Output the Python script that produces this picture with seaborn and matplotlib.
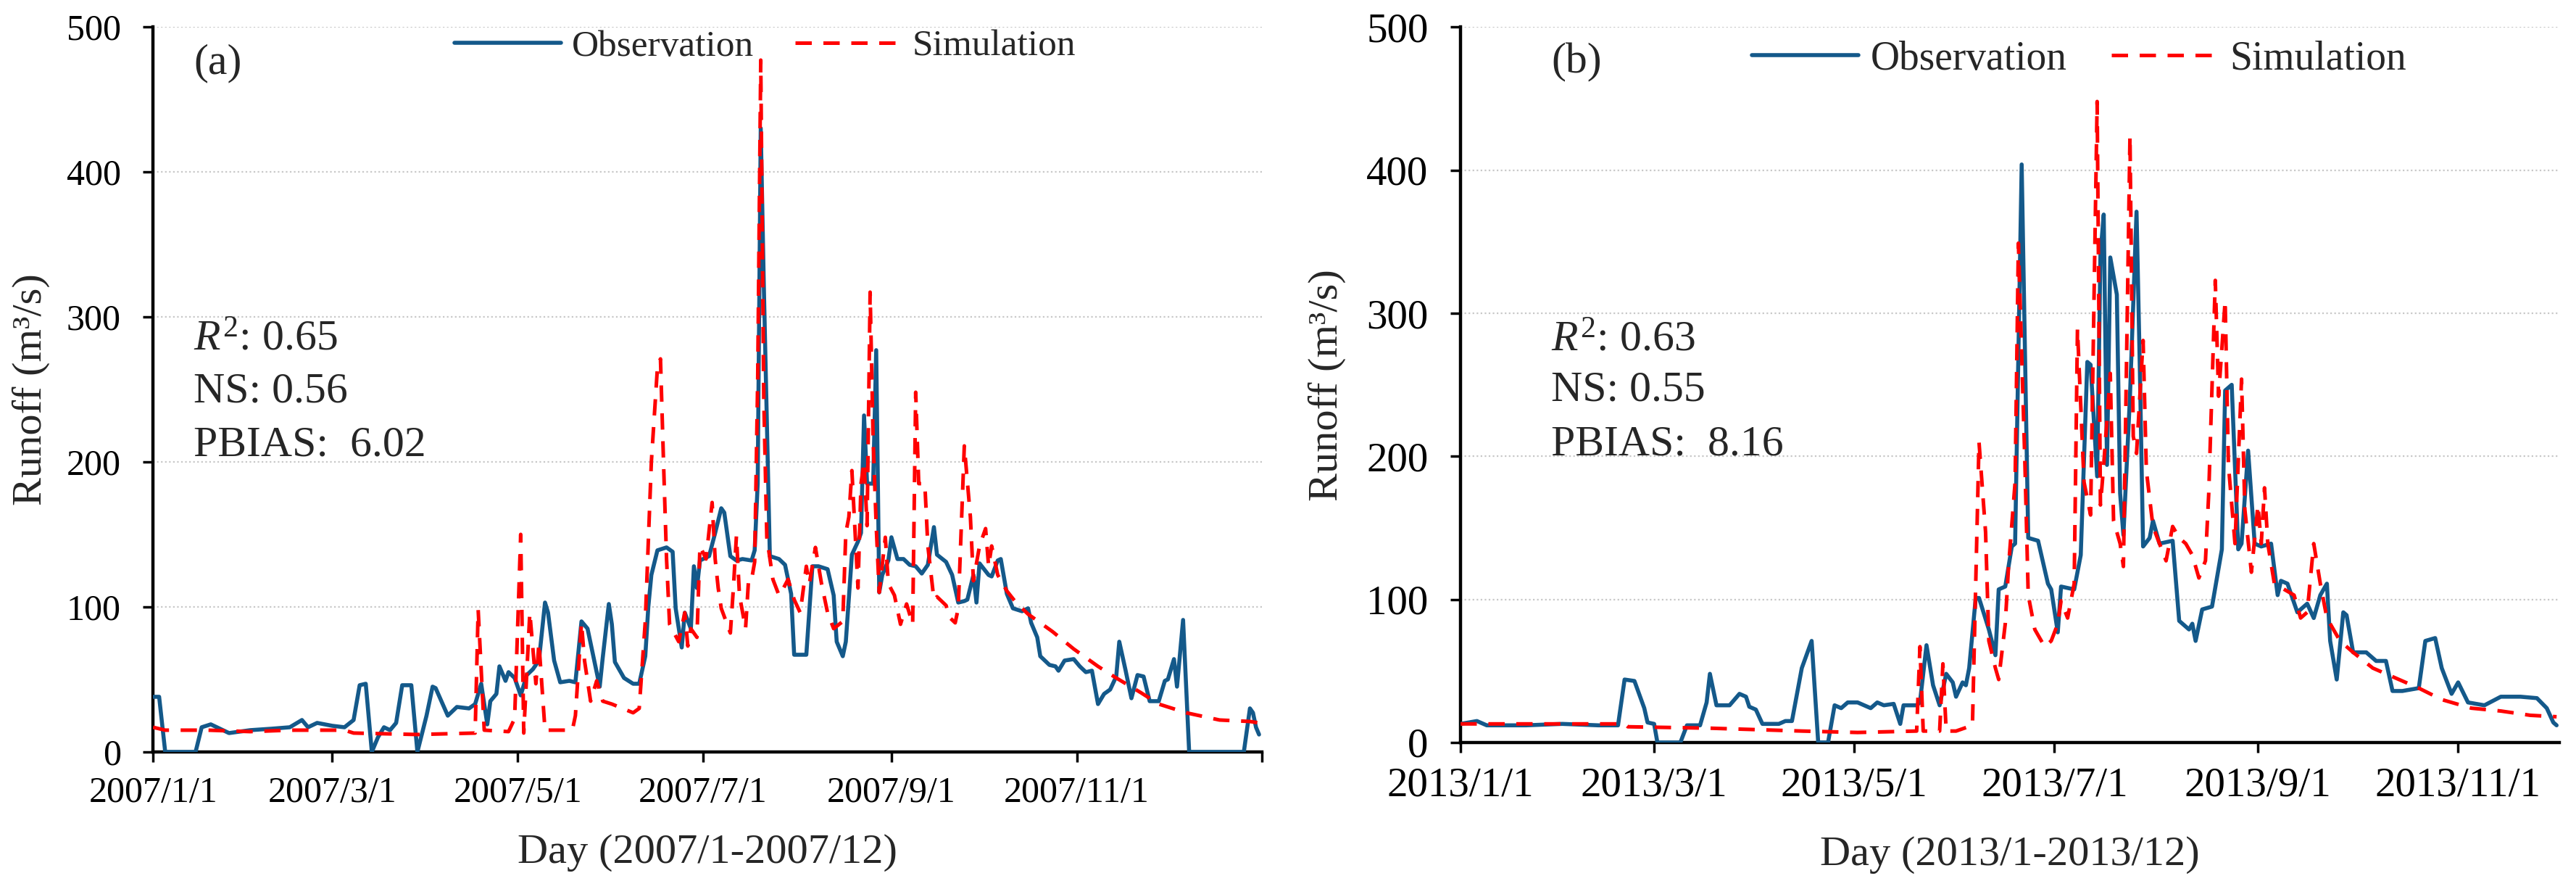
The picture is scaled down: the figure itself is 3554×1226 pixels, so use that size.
import pandas as pd
import numpy as np
import matplotlib
matplotlib.use("Agg")
import matplotlib.pyplot as plt
import seaborn as sns

# ---- data (day of year, runoff m3/s) ----
# panel (a) 2007
obs_a_day = [0, 2, 4, 14, 16, 19, 21, 25, 32, 39,
             45, 49, 51, 54, 59, 63, 66, 68, 70, 72,
             74, 76, 78, 80, 82, 85, 87, 90, 92, 93,
             97, 100, 104, 106, 108, 110, 111, 113, 114, 116,
             117, 119, 121, 123, 125, 127, 129, 130, 132, 134,
             137, 139, 141, 143, 147, 148, 150, 151, 152, 155,
             158, 160, 162, 163, 164, 166, 169, 171, 172, 174,
             175, 177, 178, 179, 180, 183, 185, 187, 188, 190,
             192, 194, 197, 198, 199, 200, 201, 203, 206, 208,
             210, 211, 215, 217, 219, 222, 224, 225, 227, 228,
             230, 232, 233, 234, 235, 237, 238, 239, 240, 242,
             243, 245, 247, 249, 251, 253, 255, 257, 258, 261,
             263, 265, 267, 268, 270, 271, 272, 275, 276, 278,
             279, 281, 283, 286, 288, 289, 291, 292, 295, 297,
             298, 300, 303, 305, 307, 309, 311, 313, 315, 317,
             318, 320, 322, 324, 326, 328, 331, 333, 334, 336,
             337, 339, 341, 359, 361, 362, 363, 364]
obs_a_val = [38, 38, 0, 0, 17, 19, 17, 13, 15, 16,
             17, 22, 17, 20, 18, 17, 22, 46, 47, 0,
             10, 17, 15, 20, 46, 46, 0, 25, 45, 44,
             25, 31, 30, 33, 47, 19, 35, 40, 59, 49,
             55, 51, 39, 53, 57, 63, 103, 96, 63, 48,
             49, 48, 90, 85, 45, 65, 102, 88, 62, 51,
             47, 47, 66, 100, 122, 139, 141, 138, 99, 72,
             96, 85, 128, 113, 132, 135, 151, 168, 165, 135,
             132, 133, 132, 139, 185, 430, 323, 135, 133, 129,
             109, 67, 67, 128, 128, 126, 108, 76, 66, 76,
             136, 145, 151, 232, 185, 185, 277, 110, 122, 132,
             148, 133, 133, 129, 128, 123, 129, 155, 136, 131,
             122, 103, 104, 105, 122, 103, 130, 122, 121, 132,
             133, 109, 99, 97, 99, 89, 79, 66, 60, 59,
             56, 63, 64, 59, 55, 56, 33, 40, 43, 52,
             76, 57, 37, 53, 52, 35, 35, 49, 50, 64,
             45, 91, 0, 0, 30, 27, 17, 12]

sim_a_day = [0, 4, 18, 32, 45, 63, 66, 87, 106, 107,
             109, 117, 119, 121, 122, 124, 126, 127, 129, 138,
             139, 141, 142, 144, 146, 148, 151, 158, 160, 162,
             164, 166, 167, 168, 169, 170, 173, 175, 176, 177,
             179, 180, 182, 184, 185, 186, 187, 190, 191, 192,
             193, 195, 196, 197, 198, 199, 200, 201, 202, 204,
             206, 207, 209, 211, 213, 215, 216, 218, 220, 222,
             224, 227, 228, 229, 230, 232, 233, 234, 235, 236,
             237, 238, 239, 241, 242, 244, 246, 248, 250, 251,
             252, 254, 255, 257, 258, 261, 262, 264, 265, 267,
             269, 270, 272, 274, 275, 276, 278, 281, 284, 288,
             296, 303, 311, 317, 325, 331, 340, 351, 361, 364]
sim_a_val = [17, 15, 15, 14, 15, 15, 13, 12, 13, 98,
             15, 14, 23, 150, 13, 96, 47, 75, 15, 15,
             25, 89, 63, 35, 49, 35, 33, 27, 30, 90,
             200, 265, 271, 200, 133, 88, 76, 96, 73, 85,
             79, 142, 133, 172, 133, 113, 99, 82, 113, 149,
             108, 85, 119, 119, 131, 257, 477, 243, 148, 119,
             108, 111, 119, 105, 96, 128, 116, 141, 116, 96,
             85, 90, 151, 162, 194, 113, 185, 200, 156, 317,
             214, 156, 110, 148, 116, 108, 88, 102, 88, 248,
             185, 185, 142, 105, 107, 101, 93, 89, 99, 211,
             162, 118, 142, 154, 128, 142, 122, 111, 103, 95,
             83, 71, 59, 51, 41, 33, 27, 22, 21, 20]

# panel (b) 2013
obs_b_day = [0, 5, 8, 20, 31, 42, 48, 50, 53, 56,
             57, 59, 60, 67, 69, 73, 75, 76, 78, 82,
             85, 87, 88, 90, 92, 97, 99, 101, 104, 107,
             109, 112, 114, 116, 118, 121, 125, 127, 129, 132,
             134, 135, 139, 140, 142, 144, 146, 148, 150, 151,
             153, 154, 155, 157, 158, 161, 163, 164, 166, 168,
             169, 171, 173, 176, 179, 180, 182, 183, 187, 189,
             191, 192, 194, 195, 196, 197, 198, 200, 201, 202,
             204, 206, 207, 208, 210, 211, 213, 217, 219, 222,
             223, 224, 226, 229, 232, 233, 235, 237, 238, 240,
             242, 244, 247, 249, 250, 252, 255, 257, 258, 260,
             262, 264, 265, 267, 269, 270, 272, 276, 279, 282,
             284, 287, 292, 294, 297, 299, 302, 304, 307, 312,
             317, 323, 328, 331, 333, 334]
obs_b_val = [13, 15, 12, 12, 13, 12, 12, 44, 43, 24,
             14, 13, 0, 0, 12, 12, 28, 48, 26, 26,
             34, 32, 25, 23, 13, 13, 15, 15, 52, 71,
             0, 0, 26, 24, 28, 28, 24, 28, 26, 27,
             13, 26, 26, 28, 68, 40, 26, 48, 42, 32,
             42, 40, 52, 101, 101, 79, 61, 107, 109, 137,
             139, 404, 143, 141, 111, 107, 77, 109, 107, 131,
             266, 264, 186, 341, 369, 194, 339, 313, 174, 145,
             242, 371, 262, 137, 143, 155, 139, 141, 85, 79,
             83, 71, 93, 95, 135, 246, 250, 135, 139, 204,
             139, 137, 139, 103, 113, 111, 91, 95, 97, 87,
             103, 111, 71, 44, 91, 89, 63, 63, 57, 57,
             36, 36, 38, 71, 73, 52, 34, 42, 28, 26,
             32, 32, 31, 24, 14, 12]

sim_b_day = [0, 50, 51, 76, 104, 121, 139, 140, 141, 146,
             147, 148, 151, 156, 157, 158, 160, 161, 163, 164,
             166, 167, 169, 170, 172, 173, 175, 178, 180, 182,
             183, 185, 187, 188, 190, 192, 194, 195, 196, 198,
             199, 201, 202, 204, 205, 206, 208, 209, 211, 213,
             215, 217, 219, 221, 223, 225, 227, 228, 230, 231,
             233, 234, 236, 238, 239, 241, 243, 244, 245, 246,
             248, 251, 254, 256, 258, 260, 262, 264, 268, 272,
             278, 284, 292, 299, 308, 317, 326, 334]
sim_b_val = [13, 13, 11, 10, 8, 7, 8, 67, 8, 8,
             55, 8, 8, 12, 111, 210, 147, 71, 52, 44,
             83, 123, 182, 349, 194, 103, 79, 67, 71, 83,
             99, 87, 111, 289, 182, 159, 448, 166, 194, 258,
             155, 139, 123, 424, 214, 202, 281, 190, 151, 139,
             127, 151, 143, 139, 131, 115, 127, 174, 323, 242,
             309, 194, 139, 254, 163, 119, 166, 139, 178, 139,
             111, 107, 103, 87, 91, 139, 111, 87, 71, 63,
             52, 46, 38, 30, 24, 22, 19, 18]

ticks_a = ['2007-01-01', '2007-03-01', '2007-05-01', '2007-07-01',
           '2007-09-01', '2007-11-01', '2008-01-01']
tick_labels_a = ['2007/1/1', '2007/3/1', '2007/5/1', '2007/7/1',
                 '2007/9/1', '2007/11/1', '']
ticks_b = ['2013-01-01', '2013-03-01', '2013-05-01', '2013-07-01',
           '2013-09-01', '2013-11-01']
tick_labels_b = ['2013/1/1', '2013/3/1', '2013/5/1', '2013/7/1',
                 '2013/9/1', '2013/11/1']
stats_a = [(284, r'$R^2$: 0.65'), (248, 'NS: 0.56'), (211, 'PBIAS:  6.02')]
stats_b = [(281, r'$R^2$: 0.63'), (246, 'NS: 0.55'), (208, 'PBIAS:  8.16')]


def make_df(start, day, val):
    d = pd.DataFrame({'day': day, 'runoff': val})
    d['date'] = pd.Timestamp(start) + pd.to_timedelta(d['day'], unit='D')
    return d


sns.set_style('white')
plt.rcParams['font.family'] = ['Liberation Serif', 'DejaVu Serif']
plt.rcParams['mathtext.fontset'] = 'custom'
plt.rcParams['mathtext.rm'] = 'Liberation Serif'
plt.rcParams['mathtext.it'] = 'Liberation Serif:italic'

BLUE = '#14598a'
RED = '#ff0000'

fig = plt.figure(figsize=(35.55, 12.26), dpi=100)
ax1 = fig.add_axes([0.0594, 0.1542, 0.4304, 0.8157])
ax2 = fig.add_axes([0.5668, 0.1648, 0.4264, 0.8047])

panels = [
    (ax1, '2007-01-01', obs_a_day, obs_a_val, sim_a_day, sim_a_val, ticks_a, tick_labels_a,
     stats_a, '(a)', 'Day (2007/1-2007/12)', pd.Timestamp('2008-01-01'), 36, 37,
     0.0366, (0.552, 0.9725), 2.85, -0.093, -0.113),
    (ax2, '2013-01-01', obs_b_day, obs_b_val, sim_b_day, sim_b_val, ticks_b, tick_labels_b,
     stats_b, '(b)', 'Day (2013/1-2013/12)', pd.Timestamp('2013-12-01 19:00'), 41, 40,
     0.0825, (0.563, 0.955), 2.65, -0.104, -0.131),
]

for (ax, start, od, ov, sd, sv, ticks, tlabels, stats, plabel, xlabel, xend,
     tsize, lsize, sx, lpos, hlen, ylab_x, xlab_y) in panels:
    obs = make_df(start, od, ov)
    sim = make_df(start, sd, sv)
    sns.lineplot(data=obs, x='date', y='runoff', ax=ax, color=BLUE, linewidth=4.0,
                 estimator=None, label='Observation', zorder=3)
    sns.lineplot(data=sim, x='date', y='runoff', ax=ax, color=RED, linewidth=3.6,
                 estimator=None, label='Simulation', linestyle=(0, (4.5, 3.2)), zorder=4)

    ax.set_xlim(pd.Timestamp(start), xend)
    ax.set_ylim(0, 500)
    ax.set_yticks([0, 100, 200, 300, 400, 500])
    ax.set_xticks(pd.to_datetime(ticks))
    ax.set_xticklabels(tlabels)

    ax.yaxis.grid(True, linestyle=(0, (1, 1.5)), color='#c8c8c8', linewidth=1.6)
    ax.xaxis.grid(False)
    ax.set_axisbelow(True)
    for s in ['top', 'right']:
        ax.spines[s].set_visible(False)
    for s in ['left', 'bottom']:
        ax.spines[s].set_linewidth(3.2)
        ax.spines[s].set_color('black')
        ax.spines[s].set_zorder(2)

    ax.tick_params(axis='both', direction='out', length=10, width=2.5,
                   labelsize=tsize, colors='black', left=True, bottom=True)
    ax.tick_params(axis='x', pad=14)
    ax.tick_params(axis='y', pad=22)

    ax.set_xlabel(xlabel, fontsize=42)
    ax.set_ylabel('Runoff (m³/s)', fontsize=42)
    ax.xaxis.set_label_coords(0.5, xlab_y)
    ax.yaxis.set_label_coords(ylab_x, 0.5)

    ax.text(sx, 0.95, plabel, transform=ax.transAxes, fontsize=43,
            ha='left', va='center')
    tr = ax.get_yaxis_transform()
    for yv, txt in stats:
        ax.text(sx, yv, txt, transform=tr, fontsize=43, ha='left', va='center')

    ax.legend(loc='center', bbox_to_anchor=lpos, ncol=2, frameon=False,
              fontsize=lsize, handlelength=hlen, handletextpad=0.3,
              columnspacing=1.1, borderpad=0, borderaxespad=0)

fig.savefig('out.png', dpi=100)
